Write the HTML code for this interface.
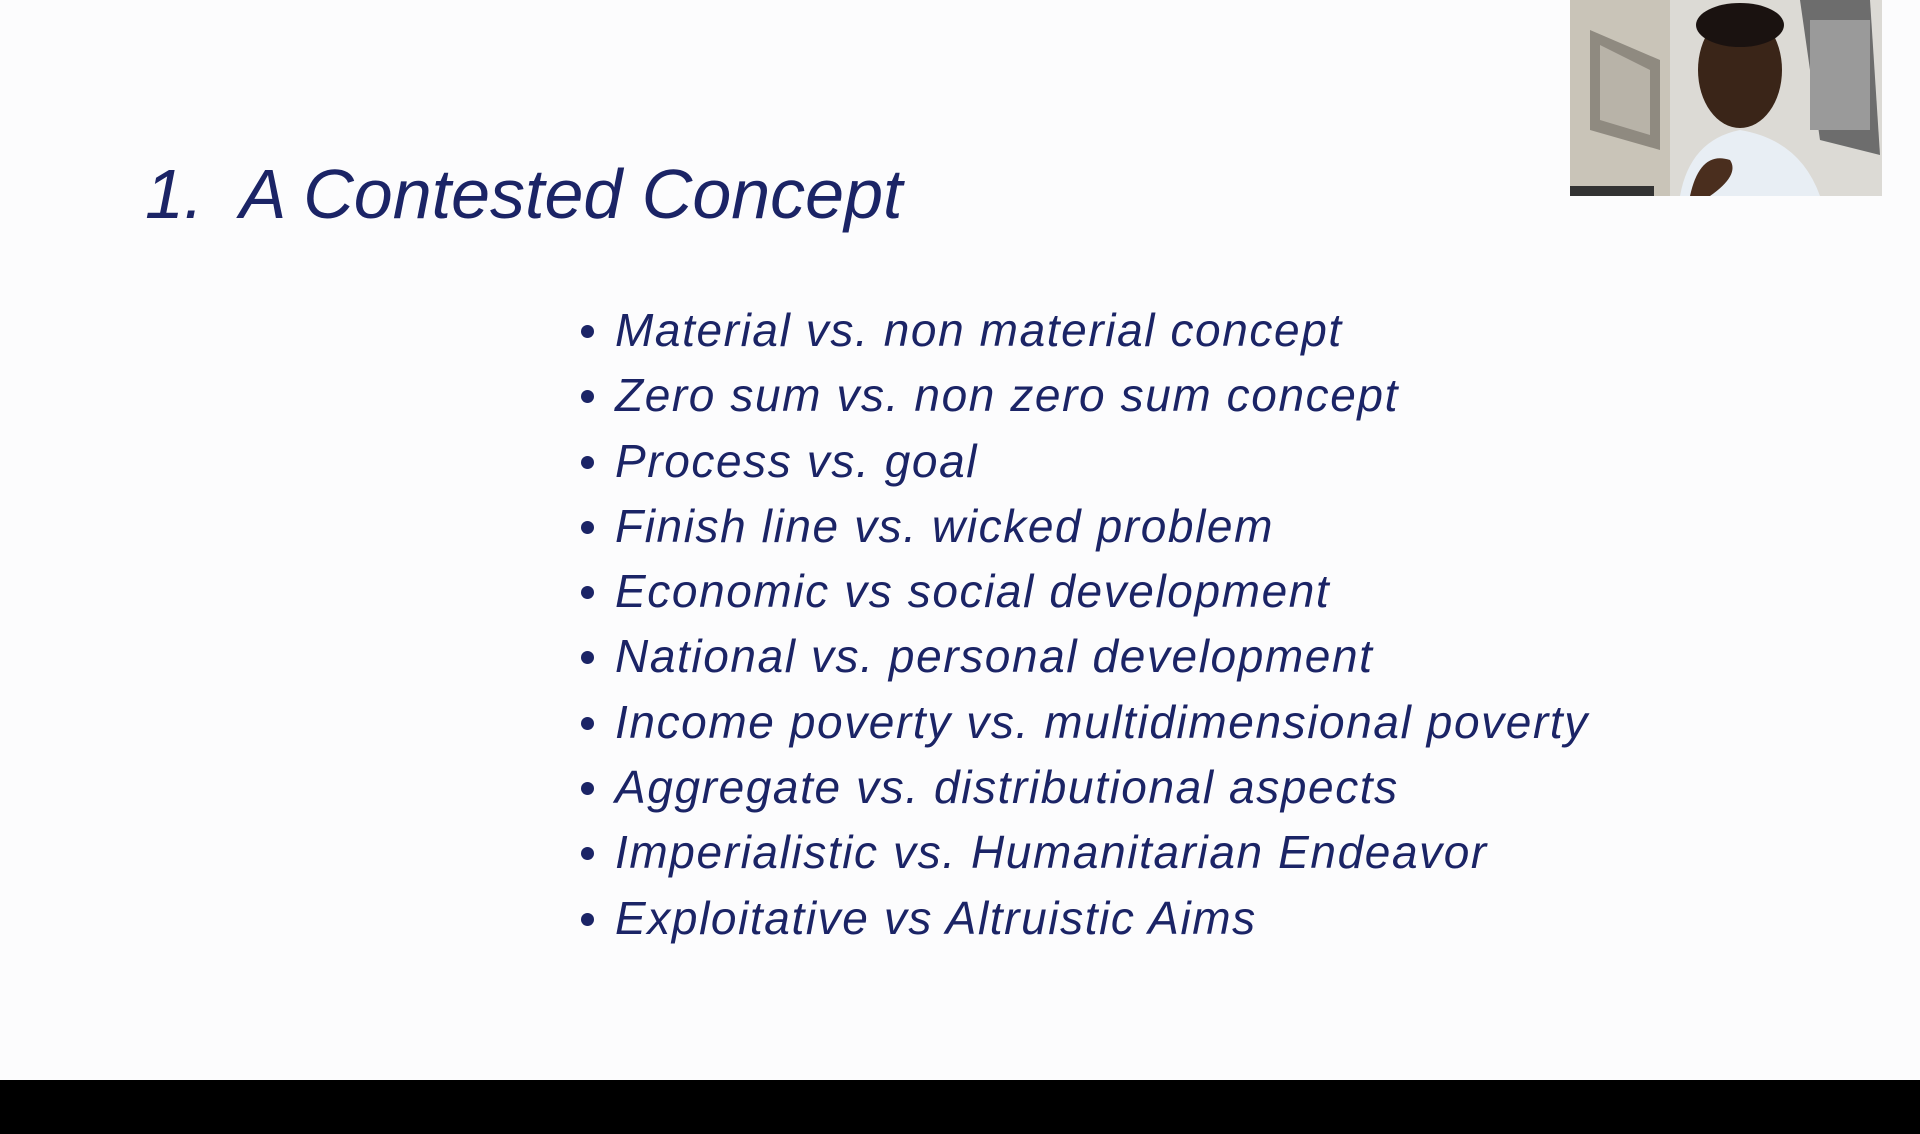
<!DOCTYPE html>
<html><head><meta charset="utf-8"><style>
html,body{margin:0;padding:0}
body{width:1920px;height:1134px;background:#fcfcfd;position:relative;overflow:hidden;font-family:"Liberation Sans",sans-serif;color:#1b2466}
.title{position:absolute;left:145px;top:154px;font-size:70px;font-style:italic;letter-spacing:0px;white-space:nowrap}
ul{position:absolute;left:578px;top:298px;margin:0;padding:0;list-style:none}
li{font-size:46px;letter-spacing:1.6px;font-style:italic;line-height:65.3px;height:65.3px;white-space:nowrap;position:relative;padding-left:37px}
li:before{content:"";position:absolute;left:3px;top:27px;width:13px;height:13px;border-radius:50%;background:#1b2466}
.bar{position:absolute;left:0;top:1080px;width:1920px;height:54px;background:#000}
.vid{position:absolute;left:1570px;top:0;width:312px;height:196px;background:#e8e8e6;overflow:hidden}
</style></head><body>
<div class="title">1.&nbsp; A Contested Concept</div>
<ul>
<li>Material vs. non material concept</li>
<li>Zero sum vs. non zero sum concept</li>
<li>Process vs. goal</li>
<li>Finish line vs. wicked problem</li>
<li>Economic vs social development</li>
<li>National vs. personal development</li>
<li>Income poverty vs. multidimensional poverty</li>
<li>Aggregate vs. distributional aspects</li>
<li>Imperialistic vs. Humanitarian Endeavor</li>
<li>Exploitative vs Altruistic Aims</li>
</ul>
<div class="vid">
<svg width="312" height="196" viewBox="0 0 312 196">
<rect width="312" height="196" fill="#dcdad5"/>
<polygon points="0,0 100,0 100,196 0,196" fill="#c9c4b8"/>
<polygon points="20,30 90,60 90,150 20,130" fill="#8f8a80"/>
<polygon points="30,45 80,70 80,135 30,120" fill="#b8b3a8"/>
<polygon points="230,0 300,0 310,155 250,140" fill="#6d6d6d"/>
<rect x="240" y="20" width="60" height="110" fill="#9a9a9a"/>
<ellipse cx="170" cy="70" rx="42" ry="58" fill="#3a2518"/>
<ellipse cx="170" cy="25" rx="44" ry="22" fill="#1a1210"/>
<path d="M110 196 Q120 140 170 130 Q230 140 250 196Z" fill="#e8eef4"/>
<path d="M120 196 Q130 150 160 160 Q170 175 140 196Z" fill="#4a2e1e"/>
<rect x="0" y="186" width="84" height="10" fill="#333"/>
</svg>
</div>
<div class="bar"></div>
</body></html>
